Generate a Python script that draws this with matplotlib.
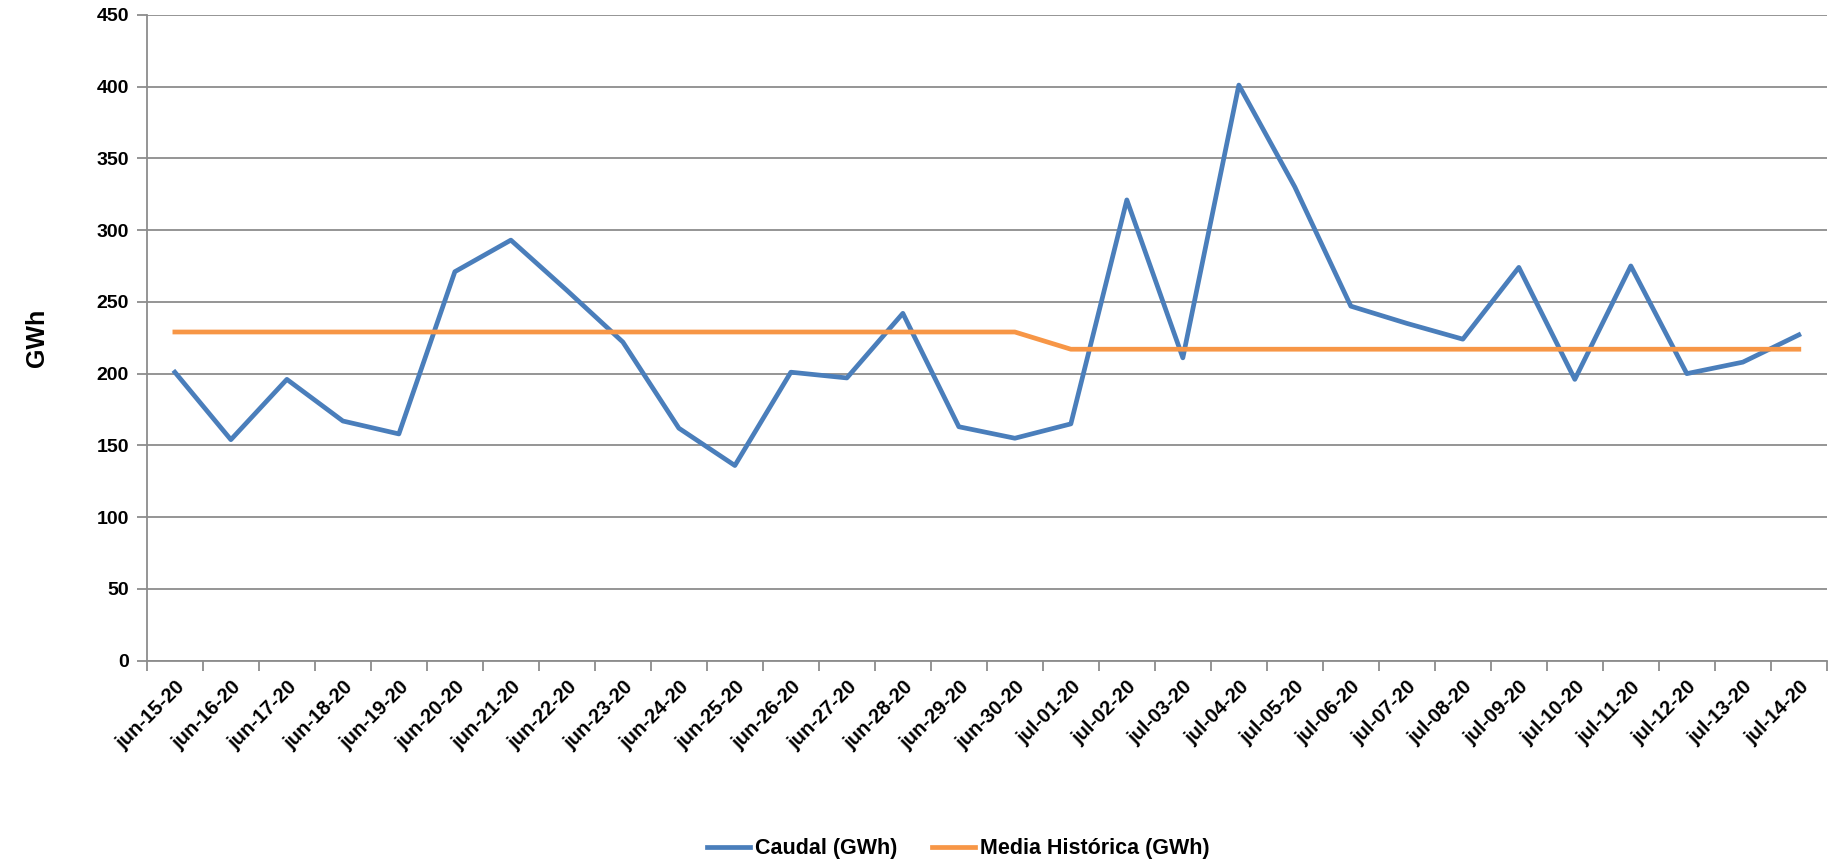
import matplotlib.pyplot as plt
import numpy as np

# Data
dates = ['jun-15-20', 'jun-16-20', 'jun-17-20', 'jun-18-20', 'jun-19-20',
         'jun-20-20', 'jun-21-20', 'jun-22-20', 'jun-23-20', 'jun-24-20',
         'jun-25-20', 'jun-26-20', 'jun-27-20', 'jun-28-20', 'jun-29-20',
         'jun-30-20', 'jul-01-20', 'jul-02-20', 'jul-03-20', 'jul-04-20',
         'jul-05-20', 'jul-06-20', 'jul-07-20', 'jul-08-20', 'jul-09-20',
         'jul-10-20', 'jul-11-20', 'jul-12-20', 'jul-13-20', 'jul-14-20']
caudal = [201, 154, 196, 167, 158, 271, 293, 258, 222, 162,
          136, 201, 197, 242, 163, 155, 165, 321, 211, 401,
          330, 247, 235, 224, 274, 196, 275, 200, 208, 227]
media = [229] * 16 + [217] * 14

blue = '#4A7EBB'
orange = '#F79646'
grid = '#8C8C8C'

plt.rcParams['font.family'] = ['Liberation Sans', 'DejaVu Sans']
plt.rcParams['font.weight'] = 'bold'

fig, ax = plt.subplots(figsize=(18.36, 8.66), dpi=100)
fig.subplots_adjust(left=0.080, right=0.995, top=0.983, bottom=0.237)

x = np.arange(len(dates))
ax.plot(x, caudal, color=blue, lw=3.4, label='Caudal (GWh)', zorder=3)
ax.plot(x, media, color=orange, lw=3.4, label='Media Histórica (GWh)', zorder=3)

ax.set_xlim(-0.5, len(dates) - 0.5)
ax.set_ylim(0, 450)
ax.set_yticks(range(0, 451, 50))
ax.yaxis.grid(True, color=grid, lw=1.3)
ax.set_axisbelow(True)

# category labels at the centres, tick marks at the boundaries
ax.set_xticks(x)
ax.set_xticklabels(dates, rotation=45, ha='right', rotation_mode='anchor',
                   fontsize=14.5, fontweight='bold')
ax.tick_params(axis='x', which='major', length=0, pad=12)
ax.set_xticks(np.arange(-0.5, len(dates)), minor=True)
ax.tick_params(axis='x', which='minor', length=7, color=grid, width=1.3)
ax.tick_params(axis='y', length=7, color=grid, width=1.3, labelsize=14, pad=6)
for lab in ax.get_yticklabels():
    lab.set_fontweight('bold')

for s in ['top', 'right']:
    ax.spines[s].set_visible(False)
for s in ['left', 'bottom']:
    ax.spines[s].set_color(grid)
    ax.spines[s].set_linewidth(1.3)

ax.set_ylabel('GWh', fontsize=18, fontweight='bold', labelpad=34)

fig.legend(loc='center', bbox_to_anchor=(0.522, 0.02), ncol=2, frameon=False,
           prop={'size': 15.5, 'weight': 'bold'}, handlelength=2.0,
           columnspacing=1.6, handletextpad=0.25)

plt.savefig('out.png')
